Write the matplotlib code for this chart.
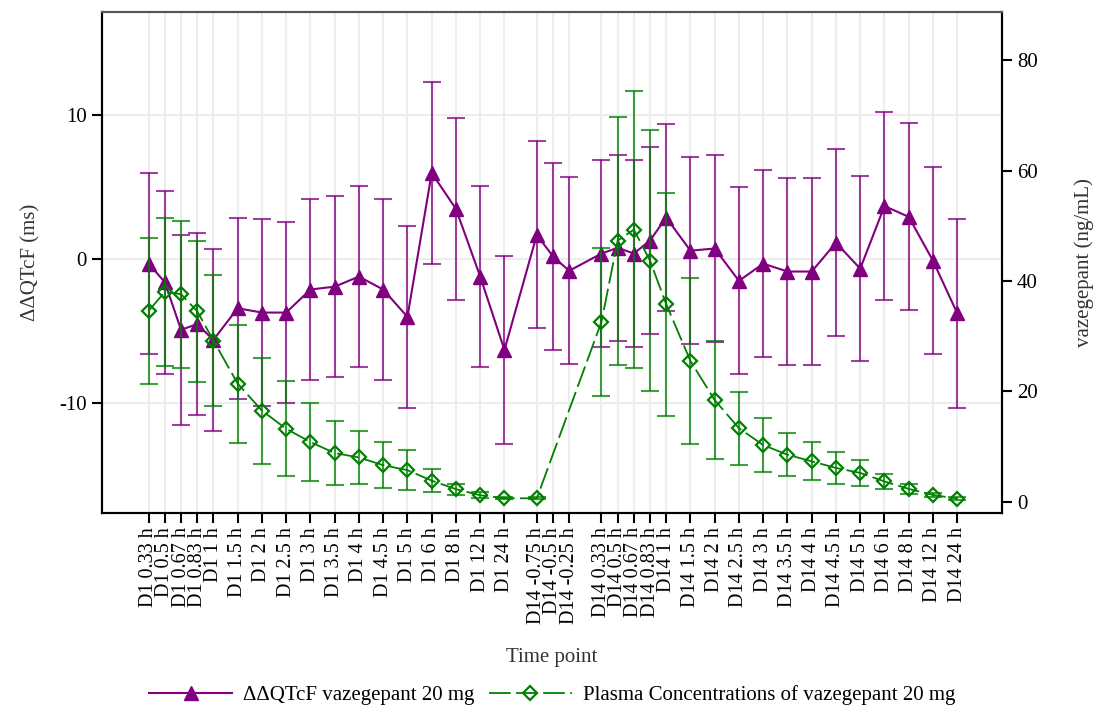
import numpy as np
import matplotlib.pyplot as plt

plt.rcParams['font.family'] = ['Liberation Serif', 'DejaVu Serif']

# time points (hours) per study day
d1_hours = [0.33, 0.5, 0.67, 0.83, 1, 1.5, 2, 2.5, 3, 3.5, 4, 4.5, 5, 6, 8, 12, 24]
d14_hours = [-0.75, -0.5, -0.25, 0.33, 0.5, 0.67, 0.83, 1, 1.5, 2, 2.5, 3, 3.5, 4, 4.5, 5, 6, 8, 12, 24]

# ddQTcF (ms), mean and half-width of CI
qtc_d1 = [-0.3, -1.6, -4.9, -4.5, -5.6, -3.4, -3.7, -3.7, -2.1, -1.9, -1.2, -2.1, -4.0, 6.0, 3.5, -1.2, -6.3]
qtc_d1_err = [6.3, 6.35, 6.6, 6.35, 6.3, 6.3, 6.5, 6.3, 6.3, 6.3, 6.3, 6.3, 6.3, 6.3, 6.3, 6.3, 6.5]
qtc_d14 = [1.7, 0.2, -0.8, 0.4, 0.8, 0.4, 1.3, 2.9, 0.6, 0.75, -1.5, -0.3, -0.85, -0.85, 1.15, -0.65,
           3.7, 2.95, -0.1, -3.75]
qtc_d14_err = [6.5, 6.5, 6.5, 6.5, 6.45, 6.5, 6.5, 6.5, 6.5, 6.5, 6.5, 6.5, 6.5, 6.5, 6.5, 6.45,
               6.5, 6.5, 6.5, 6.55]

# plasma concentration (ng/mL), mean and SD
pk_d1 = [34.6, 38.0, 37.6, 34.5, 29.2, 21.4, 16.5, 13.2, 10.8, 8.8, 8.0, 6.6, 5.7, 3.8, 2.25, 1.15, 0.6]
pk_d1_err = [13.2, 13.4, 13.3, 12.8, 11.9, 10.7, 9.6, 8.65, 7.1, 5.8, 4.8, 4.2, 3.6, 2.15, 1.0, 0.5, 0.2]
pk_d14 = [0.6, np.nan, np.nan, 32.6, 47.3, 49.3, 43.7, 35.8, 25.5, 18.4, 13.3, 10.25, 8.5, 7.3, 6.1, 5.2,
          3.65, 2.3, 1.2, 0.55]
pk_d14_err = [0.2, np.nan, np.nan, 13.4, 22.5, 25.1, 23.7, 20.2, 15.1, 10.65, 6.6, 4.85, 3.85, 3.45, 2.9, 2.3,
              1.35, 0.9, 0.4, 0.2]


def fmt_h(h):
    return f'{h:g} h'


labels = ['D1 ' + fmt_h(h) for h in d1_hours] + ['D14 ' + fmt_h(h) for h in d14_hours]

# x positions: narrower spacing for sub-hour samples, wider gap between blocks
x = []
pos = 0.0
prev = None
for hours in (d1_hours, d14_hours):
    for i, h in enumerate(hours):
        if prev is not None:
            if i == 0 or (prev < 0 < h):
                pos += 4 / 3
            elif h <= 1 and prev < 1:
                pos += 2 / 3
            else:
                pos += 1
        x.append(pos)
        prev = h
x = np.array(x)

qtc = np.array(qtc_d1 + qtc_d14)
qtc_err = np.array(qtc_d1_err + qtc_d14_err)
pk = np.array(pk_d1 + pk_d14)
pk_err = np.array(pk_d1_err + pk_d14_err)

purple = '#800080'
green = '#008000'

fig = plt.figure(figsize=(10.93, 7.11), dpi=100)
ax = fig.add_axes([0.093, 0.279, 0.824, 0.7045])
ax2 = ax.twinx()

ax.errorbar(x, qtc, yerr=qtc_err, fmt='none', ecolor=purple, elinewidth=1.5,
            capsize=6.4, capthick=1.5, alpha=0.75)
l1, = ax.plot(x, qtc, color=purple, lw=1.5, marker='^', ms=9.5,
              label='ΔΔQTcF vazegepant 20 mg')

ok = ~np.isnan(pk)
ax2.errorbar(x[ok], pk[ok], yerr=pk_err[ok], fmt='none', ecolor=green, elinewidth=1.5,
             capsize=6.4, capthick=1.5, alpha=0.75)
l2, = ax2.plot(x[ok], pk[ok], color=green, lw=1.3, dashes=(12, 3), marker='D', ms=7,
               mfc='none', mec=green, mew=1.6,
               label='Plasma Concentrations of vazegepant 20 mg')

ax.set_xlim(-1.94, 35.19)
ax.set_ylim(-17.6, 17.2)
ax2.set_ylim(-2.0, 88.8)
ax.set_xticks(x)
ax.set_xticklabels(labels, rotation=90, fontsize=14.5)
ax.set_yticks([-10, 0, 10])
ax.set_yticklabels(['-10', '0', '10'], fontsize=15)
ax2.set_yticks([0, 20, 40, 60, 80])
ax2.tick_params(axis='y', labelsize=15)

ax.grid(True, color='#ededed', lw=1.5)
ax.set_axisbelow(True)

for a in (ax, ax2):
    a.tick_params(direction='out', length=7, width=1.5, colors='black')
    for s in a.spines.values():
        s.set_linewidth(1.5)
        s.set_color('black')
    a.spines['top'].set_color('#555555')

ax.set_xlabel('Time point', fontsize=15, color='#333333')
ax.xaxis.set_label_coords(0.5, -0.27)
ax.set_ylabel('ΔΔQTcF (ms)', fontsize=15, color='#333333', labelpad=14)
ax2.set_ylabel('vazegepant (ng/mL)', fontsize=15, color='#333333', labelpad=26)

fig.legend(handles=[l1, l2], loc='center', bbox_to_anchor=(552 / 1093, 1 - 695 / 711),
           ncol=2, frameon=False, fontsize=15, handlelength=4, handletextpad=0.5,
           columnspacing=0.7)

fig.savefig('out.png', dpi=100)
